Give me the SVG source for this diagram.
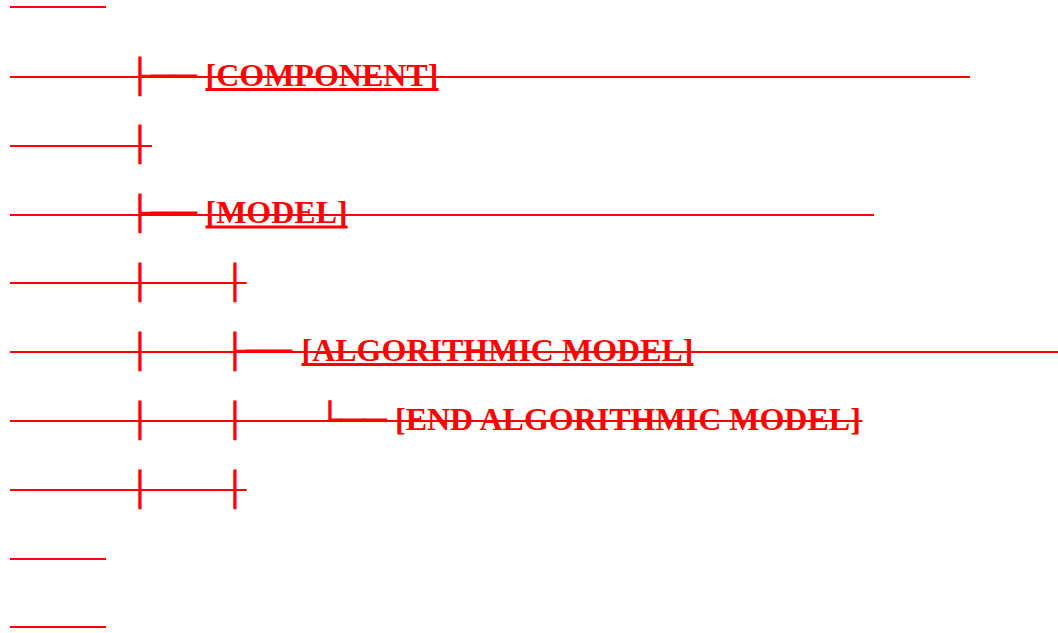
<svg xmlns="http://www.w3.org/2000/svg" width="1058" height="633" viewBox="0 0 1058 633">
<style>
  text { font-family: "Liberation Serif", "Times New Roman", serif; font-weight: bold; font-size: 32px; fill: #ff0000; }
  .tree text { stroke: #ff0000; stroke-width: 0.9; }
  .strike { stroke: #ff0000; stroke-width: 2; }
  .under { stroke: #ff0000; stroke-width: 3; }
</style>
<rect width="1058" height="633" fill="#ffffff"/>
<g id="connectors" class="tree">
  <text x="128.67" y="85.5">├──</text>
  <text x="140" y="154.4" text-anchor="middle">│</text>
  <text x="128.67" y="223.3">├──</text>
  <text x="140" y="292.2" text-anchor="middle">│</text>
  <text x="235" y="292.2" text-anchor="middle">│</text>
  <text x="140" y="361.1" text-anchor="middle">│</text>
  <text x="223.67" y="361.1">├──</text>
  <text x="140" y="430" text-anchor="middle">│</text>
  <text x="235" y="430" text-anchor="middle">│</text>
  <text x="318.67" y="430">└──</text>
  <text x="140" y="498.9" text-anchor="middle">│</text>
  <text x="235" y="498.9" text-anchor="middle">│</text>
</g>
<g id="strikes">
  <line class="strike" x1="10" y1="7" x2="106" y2="7"/>
  <line class="strike" x1="10" y1="77" x2="970" y2="77"/>
  <line class="strike" x1="10" y1="146" x2="152" y2="146"/>
  <line class="strike" x1="10" y1="215" x2="874" y2="215"/>
  <line class="strike" x1="10" y1="283" x2="246.7" y2="283"/>
  <line class="strike" x1="10" y1="352" x2="1058" y2="352"/>
  <line class="strike" x1="10" y1="421" x2="862.5" y2="421"/>
  <line class="strike" x1="10" y1="490" x2="246.7" y2="490"/>
  <line class="strike" x1="10" y1="559" x2="106" y2="559"/>
  <line class="strike" x1="10" y1="627" x2="106" y2="627"/>
</g>
<g id="component">
  <text x="205.5" y="85.5">[COMPONENT]</text>
  <line class="under" x1="205.5" y1="89.5" x2="438.5" y2="89.5"/>
</g>
<g id="model">
  <text x="205.5" y="223.3">[MODEL]</text>
  <line class="under" x1="205.5" y1="227" x2="347.7" y2="227"/>
</g>
<g id="algorithmic-model">
  <text x="301.5" y="361.1">[ALGORITHMIC MODEL]</text>
  <line class="under" x1="301.5" y1="364.6" x2="693.5" y2="364.6"/>
</g>
<g id="end-algorithmic-model">
  <text x="395" y="430">[END ALGORITHMIC MODEL]</text>
</g>
</svg>
